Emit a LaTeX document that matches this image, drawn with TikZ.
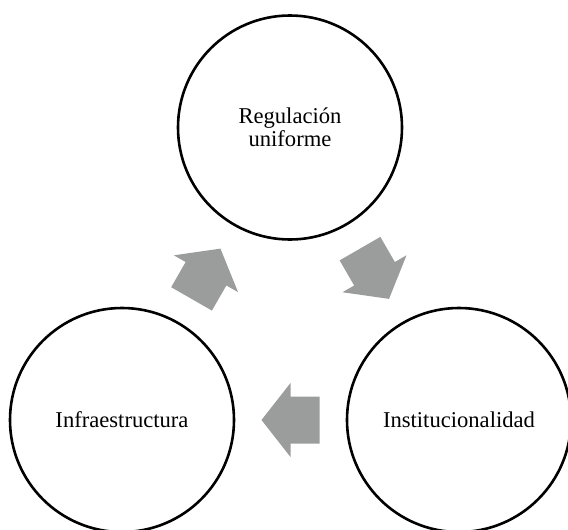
\documentclass[tikz,border=0pt]{standalone}
\usepackage{fontspec}
\setmainfont{Liberation Serif}
\usetikzlibrary{calc}

\definecolor{arrowgray}{RGB}{155,157,157}

\tikzset{
  stage/.style={circle, draw=black, line width=2.6pt, minimum size=224pt,
    inner sep=0pt, align=center,
    font=\fontsize{22.6}{23}\selectfont},
  blockarrow/.pic={
    \fill[arrowgray] (29,0) -- (0,37) -- (0,23.5) -- (-29,23.5)
      -- (-29,-23.5) -- (0,-23.5) -- (0,-37) -- cycle;
  }
}

\begin{document}
\begin{tikzpicture}[x=1pt, y=-1pt]
  \useasboundingbox (0,0) rectangle (568,530);

  % the three stages of the cycle
  \node[stage] (reg) at (290,127.5) {Regulación\\uniforme};
  \node[stage] (ins) at (459,420) {Institucionalidad};
  \node[stage] (inf) at (122,420) {Infraestructura};

  % block arrows halfway between the stages (y axis points down)
  \pic[rotate=60.1] at ($(inf)!0.5!(reg)$) {blockarrow};
  \pic[rotate=-60]  at ($(reg)!0.5!(ins)$) {blockarrow};
  \pic[rotate=180]  at ($(ins)!0.5!(inf)$) {blockarrow};
\end{tikzpicture}
\end{document}
